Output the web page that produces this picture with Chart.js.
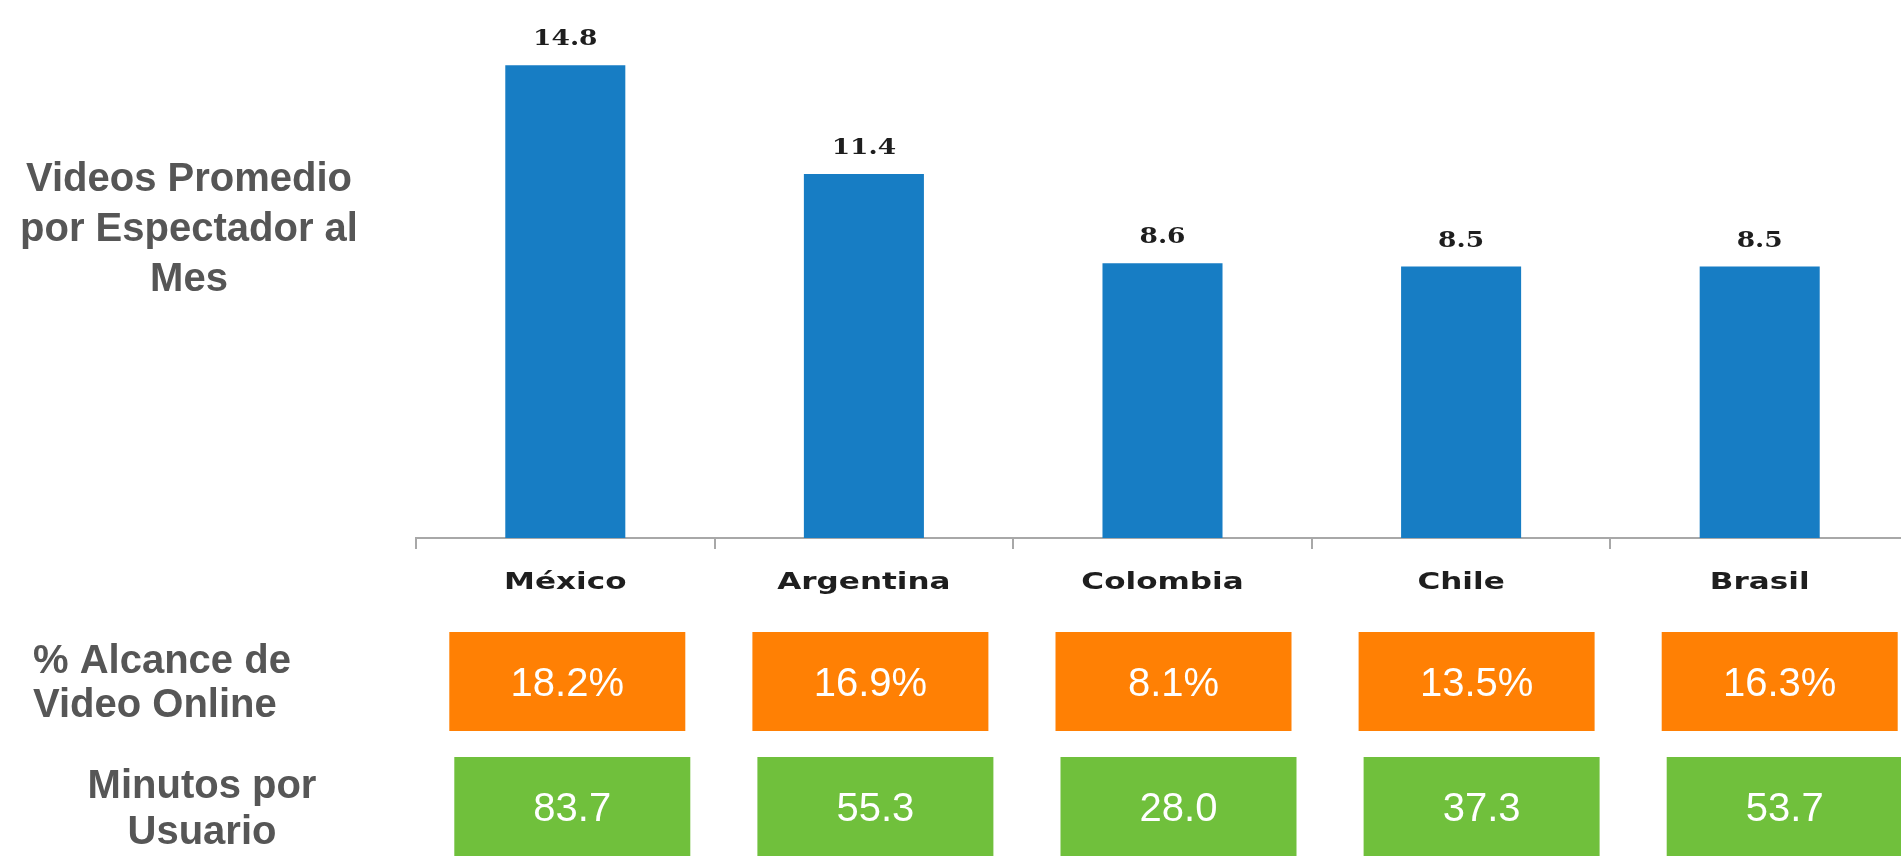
<!DOCTYPE html>
<html lang="es">
<head>
<meta charset="utf-8">
<title>Video online por país</title>
<script src="https://cdn.jsdelivr.net/npm/chart.js@4.4.1/dist/chart.umd.min.js"></script>
<style>
    html, body { margin: 0; padding: 0; background: #ffffff; overflow: hidden; }
    canvas { display: block; }
</style>
</head>
<body>
<canvas id="videoChart" width="1910" height="865"></canvas>
<script>
// Datos del gráfico
const paises = ['México', 'Argentina', 'Colombia', 'Chile', 'Brasil'];
const videosPromedio = [14.8, 11.4, 8.6, 8.5, 8.5];
const alcanceVideo = [18.2, 16.9, 8.1, 13.5, 16.3];
const minutosUsuario = [83.7, 55.3, 28.0, 37.3, 53.7];

// Textos de la columna izquierda
const tituloVideos = ['Videos Promedio', 'por Espectador al', 'Mes'];
const tituloAlcance = ['% Alcance de', 'Video Online'];
const tituloMinutos = ['Minutos por', 'Usuario'];

// Colores
const azul = '#177dc4';
const naranja = '#ff8004';
const verde = '#70c03c';
const grisTexto = '#565656';

// Dibuja texto estirado en horizontal (como el gráfico original)
function textoEstirado(ctx, texto, x, y, fuente, sx, color) {
    ctx.save();
    ctx.translate(x, y);
    ctx.scale(sx, 1);
    ctx.font = fuente;
    ctx.fillStyle = color;
    ctx.textAlign = 'center';
    ctx.textBaseline = 'alphabetic';
    ctx.fillText(texto, 0, 0);
    ctx.restore();
}

function lineas(ctx, textos, x, y0, paso, align) {
    ctx.save();
    ctx.font = 'bold 40px "Liberation Sans", Arial, sans-serif';
    ctx.fillStyle = grisTexto;
    ctx.textAlign = align;
    ctx.textBaseline = 'alphabetic';
    textos.forEach((t, i) => ctx.fillText(t, x, y0 + i * paso));
    ctx.restore();
}

// Plugin para etiquetas, cajas y títulos
const extras = {
    id: 'extras',
    afterDraw(chart) {
        const ctx = chart.ctx;
        const xs = chart.scales.x;
        const meta = chart.getDatasetMeta(0);

        // valores sobre las barras
        meta.data.forEach((bar, i) => {
            textoEstirado(ctx, videosPromedio[i].toFixed(1), bar.x, bar.y - 20,
                'bold 23px "DejaVu Serif", serif', 1.15, '#1e1e1e');
        });

        // nombres de países
        paises.forEach((p, i) => {
            textoEstirado(ctx, p, xs.getPixelForValue(i), 589,
                'bold 23px "DejaVu Sans", sans-serif', 1.35, '#1e1e1e');
        });

        // cajas de alcance y minutos
        const ancho = 236, alto = 99;
        paises.forEach((p, i) => {
            const cx = xs.getPixelForValue(i) + 2 + i * 4.5;
            ctx.fillStyle = naranja;
            ctx.fillRect(cx - ancho / 2, 632, ancho, alto);
            ctx.fillStyle = verde;
            ctx.fillRect(cx + 5 - ancho / 2, 757, ancho, alto);

            ctx.save();
            ctx.font = '40px "Liberation Sans", Arial, sans-serif';
            ctx.fillStyle = '#ffffff';
            ctx.textAlign = 'center';
            ctx.textBaseline = 'alphabetic';
            ctx.fillText(alcanceVideo[i].toFixed(1) + '%', cx, 632 + alto / 2 + 14);
            ctx.fillText(minutosUsuario[i].toFixed(1), cx + 5, 757 + alto / 2 + 14);
            ctx.restore();
        });

        // títulos de la izquierda
        lineas(ctx, tituloVideos, 189, 191, 50, 'center');
        lineas(ctx, tituloAlcance, 33, 673, 44, 'left');
        lineas(ctx, tituloMinutos, 202, 798, 46, 'center');
    }
};

const ctx = document.getElementById('videoChart').getContext('2d');
const videoChart = new Chart(ctx, {
    type: 'bar',
    data: {
        labels: paises,
        datasets: [{
            label: 'Videos Promedio por Espectador al Mes',
            data: videosPromedio,
            backgroundColor: azul,
            borderWidth: 0,
            categoryPercentage: 1,
            barPercentage: 0.402
        }]
    },
    options: {
        responsive: false,
        devicePixelRatio: 1,
        animation: false,
        layout: {
            padding: { left: 416, top: 11, right: 1, bottom: 0 }
        },
        scales: {
            x: {
                grid: {
                    display: true,
                    drawOnChartArea: false,
                    drawTicks: true,
                    tickLength: 11,
                    color: '#a8a8a8',
                    lineWidth: 2,
                    offset: true
                },
                border: { display: true, color: '#a8a8a8', width: 2 },
                ticks: { display: false },
                afterFit(scale) {
                    scale.height = 865 - 538;
                }
            },
            y: {
                display: false,
                min: 0,
                max: 16.5
            }
        },
        plugins: {
            legend: { display: false },
            tooltip: { enabled: false }
        }
    },
    plugins: [extras]
});
</script>
</body>
</html>
